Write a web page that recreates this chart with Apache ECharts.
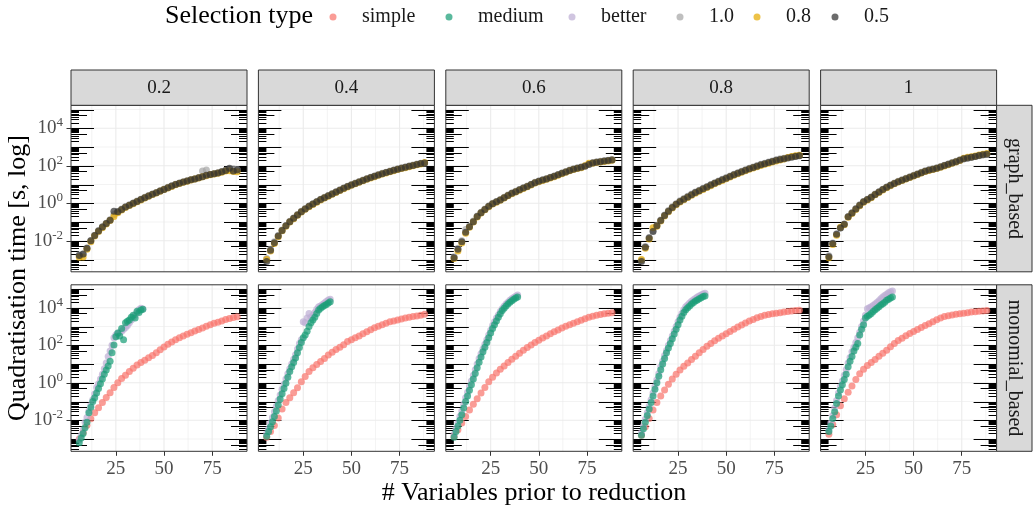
<!DOCTYPE html>
<html><head><meta charset="utf-8">
<script src="https://cdn.jsdelivr.net/npm/echarts@6/dist/echarts.min.js"></script>
<style>html,body{margin:0;padding:0;background:#fff}#c{width:1035px;height:508px}</style>
</head><body><div id="c"></div>
<script>
// ---------------- data (times are log10 of seconds) ----------------
const panels = ['0.2', '0.4', '0.6', '0.8', '1'];
const rowLabels = ['graph_based', 'monomial_based'];
const legendNames = ['simple', 'medium', 'better', '1.0', '0.8', '0.5'];
const xTickLabels = [25, 50, 75];
const yTickExponents = [-2, 0, 2, 4];

const xGraph = [6,8,10,12,14,16,18,20,22,24,26,28,30,32,34,36,38,40,42,44,46,48,50,52,54,56,58,60,62,64,66,68,70,72,74,76,78,80,82,84,86,88];
const xSimple = [6,8,10,12,14,16,18,20,22,24,26,28,30,32,34,36,38,40,42,44,46,48,50,52,54,56,58,60,62,64,66,68,70,72,74,76,78,80,82,84,86,88];
const xMono = [6,7,8,9,10,11,12,13,14,15,16,17,18,19,20,21,22,23,24,25,26,27,28,29,30,31,32,33,34,35,36,37,38,39];

// graph_based, panel 0.2
const g02_10 = [-2.75,-2.72,-2.38,-1.98,-1.7,-1.45,-1.25,-1.06,-0.88,-0.6,-0.44,-0.31,-0.18,-0.08,0.02,0.12,0.22,0.32,0.41,0.5,0.58,0.67,0.76,0.85,0.93,1.01,1.08,1.14,1.2,1.26,1.31,1.37,1.72,1.78,1.54,1.58,1.63,1.69,1.76,1.81,1.84,1.8];
const g02_08 = [-2.88,-2.86,-2.45,-2.05,-1.75,-1.5,-1.3,-1.1,-0.92,-0.7,-0.5,-0.36,-0.22,-0.12,-0.03,0.08,0.18,0.28,0.38,0.47,0.55,0.64,0.73,0.82,0.9,0.99,1.06,1.12,1.18,1.24,1.29,1.35,1.41,1.47,1.52,1.56,1.6,1.66,1.72,1.74,1.7,1.68];
const g02_05 = [-2.78,-2.7,-2.4,-2.0,-1.72,-1.48,-1.27,-1.08,-0.9,-0.42,-0.45,-0.33,-0.2,-0.1,0.0,0.1,0.2,0.3,0.39,0.48,0.56,0.65,0.74,0.83,0.92,1.0,1.07,1.13,1.19,1.25,1.3,1.36,1.42,1.49,1.53,1.57,1.62,1.68,1.75,1.87,1.72,1.78];
// graph_based, panel 0.4
const g04_10 = [-2.95,-2.45,-2.05,-1.72,-1.42,-1.18,-0.96,-0.78,-0.6,-0.43,-0.28,-0.14,-0.02,0.1,0.22,0.32,0.42,0.52,0.62,0.72,0.82,0.91,1.0,1.08,1.16,1.24,1.32,1.39,1.46,1.53,1.6,1.66,1.72,1.78,1.84,1.89,1.94,1.99,2.04,2.09,2.14,2.13];
const g04_08 = [-3.0,-2.55,-2.15,-1.78,-1.47,-1.22,-1.0,-0.82,-0.64,-0.47,-0.32,-0.18,-0.06,0.06,0.18,0.28,0.38,0.48,0.58,0.68,0.78,0.87,0.96,1.04,1.12,1.2,1.28,1.35,1.42,1.49,1.56,1.62,1.68,1.74,1.8,1.85,1.9,1.95,2.0,2.05,2.1,2.18];
const g04_05 = [-3.1,-2.5,-2.1,-1.75,-1.45,-1.2,-0.98,-0.8,-0.62,-0.45,-0.3,-0.16,-0.04,0.08,0.2,0.3,0.4,0.5,0.6,0.7,0.8,0.89,0.98,1.06,1.14,1.22,1.3,1.37,1.44,1.51,1.58,1.64,1.7,1.76,1.82,1.87,1.92,1.97,2.02,2.07,2.12,2.15];
// graph_based, panel 0.6
const g06_10 = [-2.85,-2.4,-2.0,-1.4,-1.22,-0.95,-0.68,-0.48,-0.31,-0.14,0.0,0.1,0.2,0.32,0.44,0.55,0.64,0.74,0.83,0.92,1.02,1.12,1.19,1.26,1.32,1.39,1.46,1.54,1.62,1.69,1.77,1.84,1.89,1.94,2.0,2.09,2.17,2.21,2.24,2.27,2.3,2.33];
const g06_08 = [-2.95,-2.55,-2.12,-1.6,-1.28,-1.0,-0.73,-0.52,-0.35,-0.18,-0.04,0.06,0.16,0.28,0.4,0.51,0.6,0.7,0.79,0.88,0.98,1.08,1.15,1.22,1.28,1.35,1.42,1.5,1.58,1.65,1.73,1.8,1.85,1.9,2.0,2.13,2.13,2.17,2.2,2.23,2.26,2.29];
const g06_05 = [-2.9,-2.45,-2.05,-1.55,-1.25,-0.98,-0.7,-0.5,-0.33,-0.16,-0.02,0.08,0.18,0.3,0.42,0.53,0.62,0.72,0.81,0.9,1.0,1.1,1.17,1.24,1.3,1.37,1.44,1.52,1.6,1.67,1.75,1.82,1.87,1.92,1.98,2.07,2.15,2.19,2.22,2.25,2.28,2.31];
// graph_based, panel 0.8
const g08_10 = [-3.05,-2.3,-1.82,-1.47,-1.17,-0.89,-0.62,-0.39,-0.19,-0.02,0.13,0.25,0.37,0.49,0.6,0.7,0.8,0.9,1.0,1.1,1.19,1.28,1.37,1.46,1.55,1.63,1.71,1.79,1.87,1.94,2.01,2.08,2.14,2.2,2.26,2.32,2.37,2.4,2.44,2.48,2.52,2.55];
const g08_08 = [-3.0,-2.4,-1.9,-1.3,-1.22,-0.95,-0.68,-0.45,-0.25,-0.08,0.07,0.19,0.31,0.43,0.54,0.64,0.74,0.84,0.94,1.04,1.13,1.22,1.31,1.4,1.49,1.57,1.65,1.73,1.81,1.88,1.95,2.02,2.08,2.14,2.2,2.26,2.31,2.36,2.44,2.49,2.53,2.56];
const g08_05 = [-3.1,-2.35,-1.85,-1.5,-1.2,-0.92,-0.65,-0.42,-0.22,-0.05,0.1,0.22,0.34,0.46,0.57,0.67,0.77,0.87,0.97,1.07,1.16,1.25,1.34,1.43,1.52,1.6,1.68,1.76,1.84,1.91,1.98,2.05,2.11,2.17,2.23,2.29,2.34,2.38,2.42,2.46,2.5,2.53];
// graph_based, panel 1
const g1_10 = [-2.8,-2.12,-1.62,-1.3,-1.1,-0.7,-0.5,-0.28,-0.08,0.1,0.22,0.34,0.49,0.62,0.75,0.87,0.98,1.08,1.17,1.25,1.33,1.41,1.49,1.57,1.65,1.73,1.79,1.84,1.89,1.96,2.03,2.1,2.17,2.24,2.32,2.36,2.4,2.44,2.49,2.54,2.58,2.6];
const g1_08 = [-2.9,-2.2,-1.7,-1.28,-1.15,-0.75,-0.55,-0.33,-0.13,0.05,0.17,0.3,0.45,0.58,0.71,0.83,0.94,1.04,1.13,1.21,1.29,1.37,1.45,1.53,1.61,1.69,1.75,1.8,1.85,1.92,1.99,2.06,2.13,2.2,2.28,2.4,2.46,2.48,2.52,2.57,2.62,2.65];
const g1_05 = [-2.85,-2.15,-1.65,-1.32,-1.12,-0.72,-0.52,-0.3,-0.1,0.08,0.2,0.32,0.47,0.6,0.73,0.85,0.96,1.06,1.15,1.23,1.31,1.39,1.47,1.55,1.63,1.71,1.77,1.82,1.87,1.94,2.01,2.08,2.15,2.22,2.3,2.38,2.42,2.45,2.5,2.55,2.59,2.62];

// monomial_based: simple
const s02 = [-3.0,-2.65,-2.27,-1.92,-1.6,-1.33,-1.05,-0.79,-0.53,-0.25,0.0,0.23,0.4,0.6,0.78,0.95,1.08,1.2,1.33,1.46,1.6,1.76,1.91,2.05,2.18,2.3,2.4,2.5,2.59,2.67,2.76,2.84,2.92,3.01,3.09,3.17,3.23,3.3,3.37,3.43,3.48,3.52];
const s04 = [-2.9,-2.6,-2.28,-1.88,-1.4,-1.05,-0.8,-0.53,-0.27,0.05,0.33,0.6,0.8,0.97,1.13,1.3,1.48,1.63,1.77,1.9,2.03,2.2,2.3,2.4,2.5,2.61,2.72,2.83,2.93,3.02,3.1,3.18,3.25,3.3,3.35,3.4,3.45,3.49,3.53,3.56,3.6,3.65];
const s06 = [-2.85,-2.5,-2.15,-1.8,-1.45,-1.15,-0.85,-0.55,-0.25,0.05,0.3,0.52,0.72,0.9,1.08,1.25,1.42,1.58,1.73,1.88,2.02,2.15,2.27,2.39,2.5,2.61,2.72,2.82,2.92,3.01,3.1,3.18,3.26,3.34,3.42,3.49,3.55,3.6,3.64,3.68,3.71,3.74];
const s08 = [-2.8,-2.35,-1.9,-1.45,-1.05,-0.7,-0.38,-0.08,0.2,0.45,0.68,0.88,1.06,1.24,1.42,1.6,1.78,1.95,2.1,2.24,2.37,2.5,2.62,2.74,2.86,2.97,3.08,3.19,3.29,3.38,3.47,3.54,3.6,3.64,3.68,3.71,3.74,3.77,3.8,3.83,3.85,3.87];
const s1 = [-2.75,-2.22,-1.7,-1.22,-0.85,-0.5,-0.17,0.18,0.48,0.72,0.92,1.08,1.24,1.42,1.58,1.74,1.92,2.1,2.25,2.38,2.51,2.63,2.73,2.84,2.95,3.05,3.15,3.26,3.36,3.46,3.53,3.58,3.62,3.65,3.68,3.71,3.74,3.77,3.79,3.82,3.83,3.85];
// monomial_based: medium
const m02 = [-3.2,-2.95,-2.7,-2.4,-2.1,-1.6,-1.3,-1.0,-0.8,-0.55,-0.3,-0.05,0.2,0.45,0.68,0.9,1.15,1.6,2.02,2.45,2.65,2.5,2.9,2.3,3.2,3.28,3.35,3.5,3.6,3.45,3.82,3.75,3.88,3.92];
const m04 = [-2.85,-2.6,-2.35,-2.08,-1.8,-1.5,-1.18,-0.86,-0.58,-0.3,-0.02,0.3,0.6,0.85,1.08,1.32,1.6,1.88,2.15,2.4,2.55,2.75,3.0,3.2,3.35,3.5,3.7,3.88,3.98,4.05,4.12,4.18,4.25,4.32];
const m06 = [-2.9,-2.6,-2.3,-2.0,-1.7,-1.35,-1.0,-0.7,-0.4,-0.1,0.2,0.5,0.8,1.1,1.38,1.65,1.9,2.15,2.4,2.65,2.9,3.1,3.3,3.5,3.68,3.85,3.98,4.1,4.2,4.3,4.38,4.45,4.52,4.57];
const m08 = [-2.8,-2.45,-2.1,-1.75,-1.4,-1.05,-0.7,-0.35,0.0,0.35,0.7,1.0,1.3,1.6,1.85,2.1,2.35,2.6,2.85,3.1,3.35,3.55,3.75,3.9,4.0,4.1,4.2,4.28,4.36,4.42,4.48,4.54,4.6,4.63];
const m1 = [-2.6,-2.3,-1.9,-1.55,-1.1,-0.7,-0.38,-0.1,0.18,0.45,0.85,1.15,1.4,1.7,1.9,2.1,2.55,2.85,3.1,3.45,3.55,3.62,3.7,3.8,3.9,3.98,4.05,4.15,4.22,4.3,4.4,4.46,4.52,4.58];
// monomial_based: better
const b02 = [-3.05,-2.8,-2.5,-2.1,-1.85,-1.5,-1.2,-0.9,-0.6,-0.25,-0.05,0.2,0.45,0.75,1.05,1.4,1.7,2.0,2.4,2.55,2.62,2.68,2.75,2.85,2.95,3.05,3.2,3.35,3.5,3.62,3.75,3.9,3.98,3.94];
const b04 = [-2.7,-2.45,-2.15,-1.85,-1.55,-1.25,-0.95,-0.65,-0.35,-0.08,0.2,0.48,0.75,1.0,1.25,1.5,1.8,2.1,2.3,3.25,3.2,3.45,3.7,3.5,3.6,3.75,3.92,4.05,4.1,4.18,4.25,4.33,4.41,4.45];
const b06 = [-2.75,-2.45,-2.15,-1.8,-1.5,-1.15,-0.8,-0.5,-0.2,0.1,0.4,0.7,1.0,1.3,1.55,1.8,2.05,2.3,2.55,2.8,3.05,3.25,3.45,3.62,3.8,3.95,4.08,4.2,4.3,4.4,4.48,4.55,4.62,4.68];
const b08 = [-2.65,-2.3,-1.95,-1.6,-1.25,-0.9,-0.55,-0.2,0.15,0.5,0.85,1.15,1.45,1.72,2.0,2.25,2.5,2.75,3.0,3.25,3.5,3.7,3.9,4.05,4.15,4.25,4.35,4.43,4.5,4.57,4.63,4.68,4.73,4.78];
const b1 = [-2.5,-2.15,-1.75,-1.35,-0.95,-0.55,-0.2,0.1,0.4,0.7,1.05,1.35,1.65,1.9,2.15,2.4,2.7,3.0,3.3,3.6,3.95,4.0,4.05,4.12,4.2,4.28,4.38,4.48,4.57,4.65,4.72,4.8,4.86,4.9];

// ---------------- layout / style ----------------
const SERIF = '"Liberation Serif", "DejaVu Serif", serif';
const X_MIN = 1.7, X_MAX = 93.1, Y_MIN = -3.655, Y_MAX = 5.225;
const COL0 = 71, COL_STEP = 187.4, PW = 176, PH = 166.5;
const ROW_TOP = [105.3, 284.8];
const STRIP_TOP = 70, STRIP_W = 35.4;
const COLORS = {simple: '#F8766D', medium: '#1B9E77', better: '#BEAED4', '1.0': '#A6A6A6', '0.8': '#E6AB02', '0.5': '#333333'};
const LEGEND_DOT_X = [333, 449, 572, 680, 757, 835];

const graphSets = [
  [g02_10, g02_08, g02_05], [g04_10, g04_08, g04_05], [g06_10, g06_08, g06_05],
  [g08_10, g08_08, g08_05], [g1_10, g1_08, g1_05]
];
const simpleSets = [s02, s04, s06, s08, s1];
const mediumSets = [m02, m04, m06, m08, m1];
const betterSets = [b02, b04, b06, b08, b1];

function zip(xs, ys) { return ys.map((y, i) => [xs[i], y]); }

function gridLinesRender(params, api) {
  const ch = [];
  for (let e = -3; e <= 5; e++) {
    const a = api.coord([X_MIN, e]), b = api.coord([X_MAX, e]);
    const major = (e % 2 === 0);
    ch.push({type: 'line', shape: {x1: a[0], y1: a[1], x2: b[0], y2: b[1]},
      style: {stroke: '#EBEBEB', lineWidth: major ? 1.1 : 0.6}});
  }
  [12.5, 25, 37.5, 50, 62.5, 75, 87.5].forEach((v, i) => {
    const a = api.coord([v, Y_MIN]), b = api.coord([v, Y_MAX]);
    ch.push({type: 'line', shape: {x1: a[0], y1: a[1], x2: b[0], y2: b[1]},
      style: {stroke: '#EBEBEB', lineWidth: (i % 2 === 1) ? 1.1 : 0.6}});
  });
  return {type: 'group', children: ch};
}

function logTicksRender(params, api) {
  const ch = [];
  for (let k = -4; k <= 5; k++) {
    for (let c = 1; c <= 9; c++) {
      const v = k + Math.log10(c);
      if (v < Y_MIN || v > Y_MAX) continue;
      const len = c === 1 ? 23 : (c === 5 ? 16 : 8);
      const a = api.coord([X_MIN, v]), b = api.coord([X_MAX, v]);
      const y = Math.round(a[1]) + 0.5;
      ch.push({type: 'line', shape: {x1: a[0], y1: y, x2: a[0] + len, y2: y}, style: {stroke: '#000', lineWidth: 1}});
      ch.push({type: 'line', shape: {x1: b[0] - len, y1: y, x2: b[0], y2: y}, style: {stroke: '#000', lineWidth: 1}});
    }
  }
  return {type: 'group', children: ch};
}

const grids = [], xAxes = [], yAxes = [], series = [], graphic = [];
for (let r = 0; r < 2; r++) {
  for (let c = 0; c < 5; c++) {
    const idx = r * 5 + c;
    const left = COL0 + c * COL_STEP, top = ROW_TOP[r];
    grids.push({left: left, top: top, width: PW, height: PH, containLabel: false});
    xAxes.push({
      type: 'value', gridIndex: idx, min: X_MIN, max: X_MAX, position: 'bottom',
      axisLine: {show: false, onZero: false}, splitLine: {show: false},
      axisTick: {show: r === 1, customValues: xTickLabels, length: 4.5, lineStyle: {color: '#333333', width: 1}},
      axisLabel: {show: r === 1, customValues: xTickLabels, margin: 8, color: '#4D4D4D', fontSize: 19, fontFamily: SERIF}
    });
    yAxes.push({
      type: 'value', gridIndex: idx, min: Y_MIN, max: Y_MAX, position: 'left',
      axisLine: {show: false, onZero: false}, splitLine: {show: false},
      axisTick: {show: c === 0, customValues: yTickExponents, length: 4.5, lineStyle: {color: '#333333', width: 1}},
      axisLabel: {
        show: c === 0, customValues: yTickExponents, margin: 8,
        formatter: v => '{b|10}{s|' + v + '}',
        rich: {
          b: {fontSize: 19, fontFamily: SERIF, color: '#4D4D4D', lineHeight: 24},
          s: {fontSize: 13, fontFamily: SERIF, color: '#4D4D4D', verticalAlign: 'top', lineHeight: 13}
        }
      }
    });
    series.push({type: 'custom', xAxisIndex: idx, yAxisIndex: idx, z: 1, silent: true,
      renderItem: gridLinesRender, data: [[50, 0]]});
    series.push({type: 'custom', xAxisIndex: idx, yAxisIndex: idx, z: 1.5, silent: true,
      renderItem: logTicksRender, data: [[50, 0]]});
    const pt = (name, xs, ys) => ({
      type: 'scatter', name: name, xAxisIndex: idx, yAxisIndex: idx, symbolSize: 7,
      itemStyle: {color: COLORS[name], opacity: 0.72}, data: zip(xs, ys), z: 2, silent: true
    });
    if (r === 0) {
      series.push(pt('1.0', xGraph, graphSets[c][0]));
      series.push(pt('0.8', xGraph, graphSets[c][1]));
      series.push(pt('0.5', xGraph, graphSets[c][2]));
    } else {
      series.push(pt('simple', xSimple, simpleSets[c]));
      series.push(pt('better', xMono, betterSets[c]));
      series.push(pt('medium', xMono, mediumSets[c]));
    }
    graphic.push({type: 'rect', silent: true, z: 100,
      shape: {x: left, y: top, width: PW, height: PH},
      style: {fill: 'none', stroke: '#333333', lineWidth: 1}});
    if (r === 0) {
      graphic.push({type: 'rect', silent: true, z: 100,
        shape: {x: left, y: STRIP_TOP, width: PW, height: top - STRIP_TOP},
        style: {fill: '#D9D9D9', stroke: '#333333', lineWidth: 1}});
      graphic.push({type: 'text', silent: true, z: 101, x: left + PW / 2, y: (STRIP_TOP + top) / 2,
        style: {text: panels[c], fontSize: 19, fontFamily: SERIF, fill: '#1A1A1A',
          textAlign: 'center', textVerticalAlign: 'middle', align: 'center', verticalAlign: 'middle'}});
    }
  }
  const rx = COL0 + 4 * COL_STEP + PW;
  graphic.push({type: 'rect', silent: true, z: 100,
    shape: {x: rx, y: ROW_TOP[r], width: STRIP_W, height: PH},
    style: {fill: '#D9D9D9', stroke: '#333333', lineWidth: 1}});
  graphic.push({type: 'text', silent: true, z: 101, x: rx + STRIP_W / 2, y: ROW_TOP[r] + PH / 2, rotation: -Math.PI / 2,
    style: {text: rowLabels[r], fontSize: 20, fontFamily: SERIF, fill: '#1A1A1A',
      textAlign: 'center', textVerticalAlign: 'middle', align: 'center', verticalAlign: 'middle'}});
}

graphic.push({type: 'text', silent: true, x: 165, y: 16,
  style: {text: 'Selection type', fontSize: 26, fontFamily: SERIF, fill: '#000',
    textAlign: 'left', textVerticalAlign: 'middle', align: 'left', verticalAlign: 'middle'}});
graphic.push({type: 'text', silent: true, x: 18, y: 278, rotation: Math.PI / 2,
  style: {text: 'Quadratisation time [s, log]', fontSize: 26, fontFamily: SERIF, fill: '#000',
    textAlign: 'center', textVerticalAlign: 'middle', align: 'center', verticalAlign: 'middle'}});
graphic.push({type: 'text', silent: true, x: 534, y: 493,
  style: {text: '# Variables prior to reduction', fontSize: 26, fontFamily: SERIF, fill: '#000',
    textAlign: 'center', textVerticalAlign: 'middle', align: 'center', verticalAlign: 'middle'}});

const legends = legendNames.map((n, i) => ({
  data: [n], left: LEGEND_DOT_X[i] - 3.5, top: 7, padding: 0, itemWidth: 48, itemHeight: 7,
  icon: 'circle', selectedMode: false,
  textStyle: {fontSize: 20, fontFamily: SERIF, color: '#1A1A1A'}
}));

const chart = echarts.init(document.getElementById('c'), null, {renderer: 'canvas'});
chart.setOption({
  animation: false,
  backgroundColor: '#fff',
  grid: grids, xAxis: xAxes, yAxis: yAxes, series: series,
  legend: legends, graphic: graphic
});
</script></body></html>
